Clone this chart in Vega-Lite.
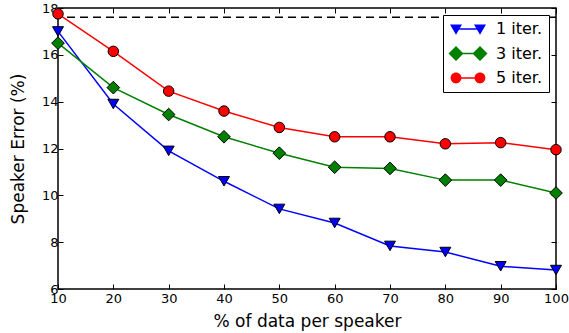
{
  "$schema": "https://vega.github.io/schema/vega-lite/v6.json",
  "width": 498,
  "height": 281,
  "autosize": {"type": "none"},
  "padding": {"left": 58, "top": 8, "right": 13, "bottom": 44},
  "background": "white",
  "config": {
    "font": "DejaVu Sans",
    "view": {"stroke": "black", "strokeWidth": 1.5},
    "legend": {"strokeWidth": 1},
    "axis": {
      "domain": false,
      "grid": false,
      "ticks": true,
      "tickSize": -5,
      "tickColor": "black",
      "tickWidth": 1,
      "labelColor": "black",
      "labelFontSize": 13,
      "labelFont": "DejaVu Sans",
      "titleFont": "DejaVu Sans",
      "titleFontSize": 17,
      "titleFontWeight": "normal",
      "titleColor": "black"
    }
  },
  "data": {
    "values": [
      {"pct": 10, "err": 17.0, "series": "1 iter."},
      {"pct": 20, "err": 13.9, "series": "1 iter."},
      {"pct": 30, "err": 11.9, "series": "1 iter."},
      {"pct": 40, "err": 10.6, "series": "1 iter."},
      {"pct": 50, "err": 9.42, "series": "1 iter."},
      {"pct": 60, "err": 8.82, "series": "1 iter."},
      {"pct": 70, "err": 7.84, "series": "1 iter."},
      {"pct": 80, "err": 7.58, "series": "1 iter."},
      {"pct": 90, "err": 6.97, "series": "1 iter."},
      {"pct": 100, "err": 6.81, "series": "1 iter."},
      {"pct": 10, "err": 16.5, "series": "3 iter."},
      {"pct": 20, "err": 14.6, "series": "3 iter."},
      {"pct": 30, "err": 13.45, "series": "3 iter."},
      {"pct": 40, "err": 12.5, "series": "3 iter."},
      {"pct": 50, "err": 11.8, "series": "3 iter."},
      {"pct": 60, "err": 11.2, "series": "3 iter."},
      {"pct": 70, "err": 11.15, "series": "3 iter."},
      {"pct": 80, "err": 10.65, "series": "3 iter."},
      {"pct": 90, "err": 10.65, "series": "3 iter."},
      {"pct": 100, "err": 10.1, "series": "3 iter."},
      {"pct": 10, "err": 17.75, "series": "5 iter."},
      {"pct": 20, "err": 16.15, "series": "5 iter."},
      {"pct": 30, "err": 14.45, "series": "5 iter."},
      {"pct": 40, "err": 13.6, "series": "5 iter."},
      {"pct": 50, "err": 12.9, "series": "5 iter."},
      {"pct": 60, "err": 12.5, "series": "5 iter."},
      {"pct": 70, "err": 12.5, "series": "5 iter."},
      {"pct": 80, "err": 12.2, "series": "5 iter."},
      {"pct": 90, "err": 12.25, "series": "5 iter."},
      {"pct": 100, "err": 11.95, "series": "5 iter."}
    ]
  },
  "resolve": {"axis": {"x": "independent", "y": "independent"}},
  "layer": [
    {
      "data": {"values": [{"baseline": 17.6}]},
      "mark": {"type": "rule", "color": "black", "strokeWidth": 1.5, "strokeDash": [8, 5]},
      "encoding": {
        "y": {"field": "baseline", "type": "quantitative", "scale": {"domain": [6, 18], "nice": false, "zero": false}, "axis": null}
      }
    },
    {
      "transform": [{"filter": "datum.series === '1 iter.'"}],
      "mark": {"type": "line", "strokeWidth": 1.5, "color": "#0000ff"},
      "encoding": {
        "x": {"field": "pct", "type": "quantitative", "title": "% of data per speaker",
          "scale": {"domain": [10, 100], "nice": false, "zero": false},
          "axis": {"values": [10, 20, 30, 40, 50, 60, 70, 80, 90, 100], "labelPadding": 8, "titlePadding": 8, "labelFlush": false}},
        "y": {"field": "err", "type": "quantitative", "title": "Speaker Error (%)",
          "scale": {"domain": [6, 18], "nice": false, "zero": false},
          "axis": {"values": [6, 8, 10, 12, 14, 16, 18], "labelPadding": 5, "titlePadding": 14, "labelFlush": false}}
      }
    },
    {
      "transform": [{"filter": "datum.series === '1 iter.'"}],
      "mark": {"type": "point", "shape": "triangle-down", "filled": true, "fill": "#0000ff", "stroke": "black", "strokeWidth": 1, "opacity": 1, "size": 120},
      "encoding": {
        "x": {"field": "pct", "type": "quantitative", "axis": null},
        "y": {"field": "err", "type": "quantitative", "axis": null}
      }
    },
    {
      "transform": [{"filter": "datum.series === '3 iter.'"}],
      "mark": {"type": "line", "strokeWidth": 1.5, "color": "#008000"},
      "encoding": {
        "x": {"field": "pct", "type": "quantitative", "axis": null},
        "y": {"field": "err", "type": "quantitative", "axis": null}
      }
    },
    {
      "transform": [{"filter": "datum.series === '3 iter.'"}],
      "mark": {"type": "point", "shape": "diamond", "filled": true, "fill": "#008000", "stroke": "black", "strokeWidth": 1, "opacity": 1, "size": 160},
      "encoding": {
        "x": {"field": "pct", "type": "quantitative", "axis": null},
        "y": {"field": "err", "type": "quantitative", "axis": null}
      }
    },
    {
      "transform": [{"filter": "datum.series === '5 iter.'"}],
      "mark": {"type": "line", "strokeWidth": 1.5, "color": "#ff0000"},
      "encoding": {
        "x": {"field": "pct", "type": "quantitative", "axis": null},
        "y": {"field": "err", "type": "quantitative", "axis": null}
      }
    },
    {
      "transform": [{"filter": "datum.series === '5 iter.'"}],
      "mark": {"type": "point", "shape": "circle", "filled": true, "fill": "#ff0000", "stroke": "black", "strokeWidth": 1, "opacity": 1, "size": 110},
      "encoding": {
        "x": {"field": "pct", "type": "quantitative", "axis": null},
        "y": {"field": "err", "type": "quantitative", "axis": null}
      }
    },
    {
      "transform": [{"filter": "datum.pct < 0"}],
      "mark": {"type": "point", "filled": true, "opacity": 1, "size": 144},
      "encoding": {
        "x": {"field": "pct", "type": "quantitative", "axis": null},
        "y": {"field": "err", "type": "quantitative", "axis": null},
        "color": {"field": "series", "type": "nominal",
          "scale": {"domain": ["1 iter.", "3 iter.", "5 iter."], "range": ["#0000ff", "#008000", "#ff0000"]}},
        "shape": {"field": "series", "type": "nominal",
          "scale": {"domain": ["1 iter.", "3 iter.", "5 iter."],
            "range": [
              "M-1,-0.75L1,-0.75L0,0.95Z M3,-0.75L5,-0.75L4,0.95Z M0,-0.125L4,-0.125L4,0.125L0,0.125Z",
              "M-1.25,0L0,-1.25L1.25,0L0,1.25Z M2.75,0L4,-1.25L5.25,0L4,1.25Z M0,-0.125L4,-0.125L4,0.125L0,0.125Z",
              "M-0.9,0C-0.9,-0.5 -0.5,-0.9 0,-0.9C0.5,-0.9 0.9,-0.5 0.9,0C0.9,0.5 0.5,0.9 0,0.9C-0.5,0.9 -0.9,0.5 -0.9,0Z M3.1,0C3.1,-0.5 3.5,-0.9 4,-0.9C4.5,-0.9 4.9,-0.5 4.9,0C4.9,0.5 4.5,0.9 4,0.9C3.5,0.9 3.1,0.5 3.1,0Z M0,-0.125L4,-0.125L4,0.125L0,0.125Z"
            ]},
          "legend": {
            "title": null,
            "orient": "top-right",
            "offset": 7,
            "direction": "vertical",
            "fillColor": "white",
            "strokeColor": "black",
            "cornerRadius": 0,
            "padding": 6,
            "symbolSize": 144,
            "symbolOpacity": 1,
            "symbolStrokeWidth": 0,
            "symbolOffset": -1,
            "labelFontSize": 16,
            "labelFont": "DejaVu Sans",
            "labelColor": "black",
            "labelOffset": 32,
            "rowPadding": 8.5
          }
        }
      }
    },
    {
      "mark": {"type": "point", "opacity": 0},
      "encoding": {
        "x": {"field": "pct", "type": "quantitative",
          "axis": {"orient": "top", "labels": false, "title": null, "values": [10, 20, 30, 40, 50, 60, 70, 80, 90, 100]}},
        "y": {"field": "err", "type": "quantitative",
          "axis": {"orient": "right", "labels": false, "title": null, "values": [6, 8, 10, 12, 14, 16, 18]}}
      }
    }
  ]
}
